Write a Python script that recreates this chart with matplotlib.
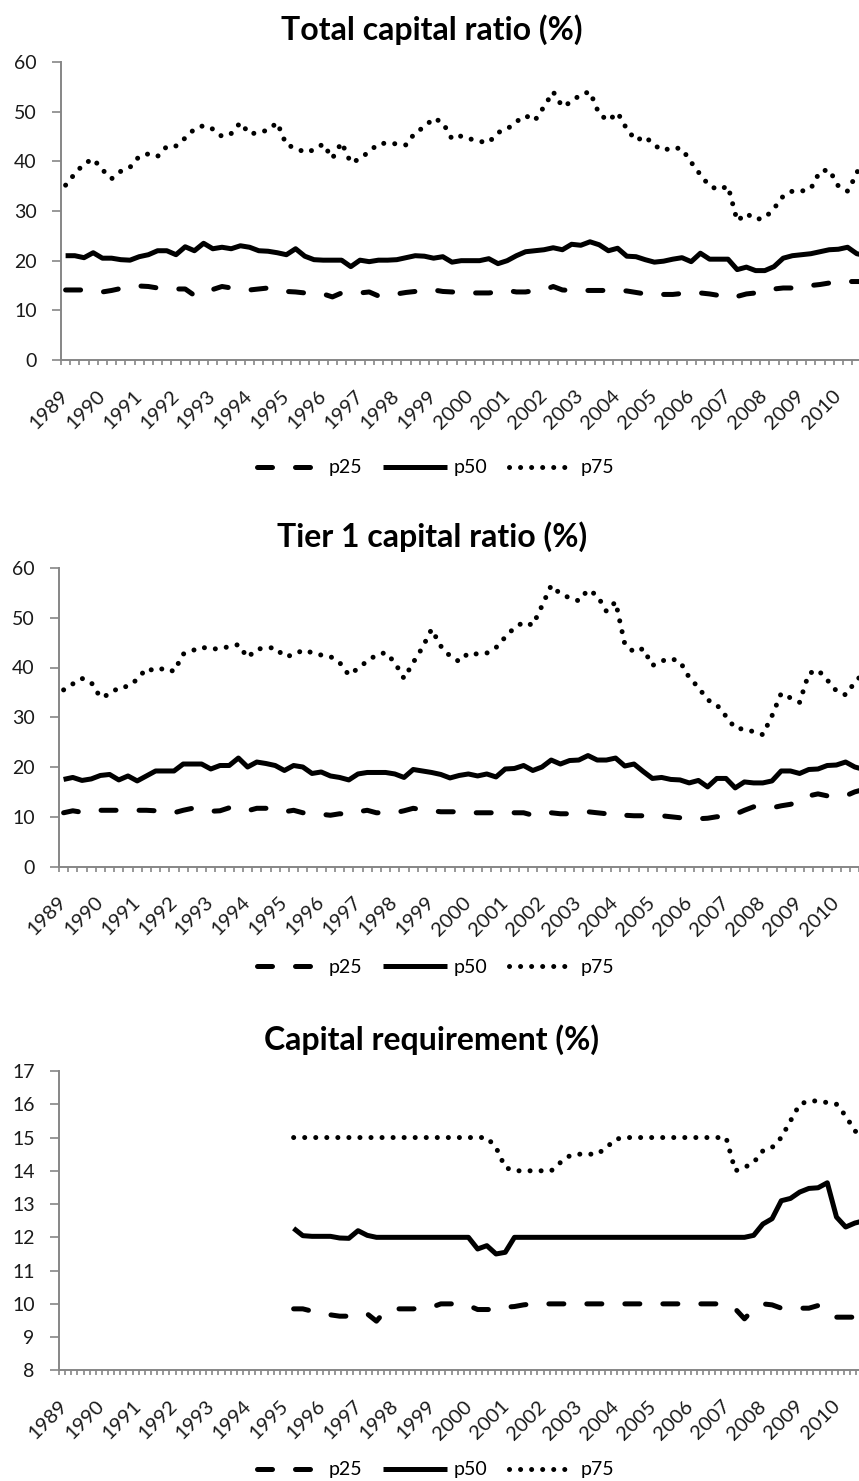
import numpy as np
import matplotlib
matplotlib.use("Agg")
import matplotlib.pyplot as plt
from matplotlib.lines import Line2D
from matplotlib.transforms import ScaledTranslation, blended_transform_factory

plt.rcParams['font.family'] = ['Lato', 'DejaVu Sans']

# ---------------- data ----------------
year_labels = [str(y) for y in range(1989, 2011)]
series_names = ["p25", "p50", "p75"]

# Total capital ratio (%), quarterly from 1989Q1
tcr_p25 = [14.1, 14.1, 14.1, 13.9, 13.7, 14.0, 14.4, 14.7, 14.9, 14.8,
           14.5, 14.3, 14.3, 14.3, 13.0, 13.5, 14.2, 14.8, 14.5, 14.2,
           14.1, 14.3, 14.5, 14.3, 13.8, 13.7, 13.5, 13.3, 13.3, 12.7,
           13.5, 13.4, 13.5, 13.7, 12.9, 13.3, 13.3, 13.6, 13.8, 14.1,
           14.1, 13.8, 13.7, 13.6, 13.5, 13.5, 13.5, 13.7, 14.0, 13.7,
           13.7, 14.0, 14.1, 14.8, 14.1, 14.0, 14.0, 14.0, 14.0, 14.0,
           14.0, 13.9, 13.6, 13.3, 13.2, 13.2, 13.2, 13.4, 13.5, 13.5,
           13.3, 13.0, 13.3, 12.8, 13.3, 13.5, 13.7, 14.3, 14.5, 14.5,
           14.6, 15.0, 15.2, 15.5, 15.6, 15.8, 15.8, 15.8]
tcr_p50 = [21.0, 21.0, 20.6, 21.6, 20.5, 20.5, 20.2, 20.1, 20.8, 21.2,
           22.0, 22.0, 21.2, 22.8, 22.0, 23.5, 22.4, 22.7, 22.4, 23.0,
           22.7, 22.0, 21.9, 21.6, 21.2, 22.4, 20.9, 20.2, 20.1, 20.1,
           20.1, 18.8, 20.1, 19.8, 20.1, 20.1, 20.2, 20.6, 21.0, 20.9,
           20.5, 20.8, 19.7, 20.0, 20.0, 20.0, 20.4, 19.4, 20.0, 21.0,
           21.8, 22.0, 22.2, 22.6, 22.2, 23.3, 23.1, 23.8, 23.2, 22.0,
           22.5, 20.9, 20.8, 20.2, 19.7, 19.9, 20.3, 20.6, 19.8, 21.5,
           20.3, 20.3, 20.3, 18.2, 18.7, 18.0, 18.0, 18.8, 20.5, 21.0,
           21.2, 21.4, 21.8, 22.2, 22.3, 22.7, 21.4, 21.0]
tcr_p75 = [35.2, 37.5, 39.5, 40.5, 38.3, 36.5, 38.0, 38.8, 41.0, 41.5,
           41.0, 43.0, 43.1, 44.7, 46.5, 47.2, 46.5, 45.0, 45.6, 47.8,
           45.5, 45.8, 46.3, 47.8, 43.3, 42.7, 41.8, 42.3, 43.5, 40.6,
           43.8, 39.7, 40.5, 42.0, 43.5, 43.7, 43.5, 43.3, 45.8, 46.9,
           48.7, 47.8, 44.5, 45.1, 44.5, 44.0, 43.8, 45.8, 46.5, 48.0,
           49.2, 48.2, 51.0, 54.0, 51.0, 52.0, 53.5, 54.0, 49.5, 48.2,
           49.8, 46.5, 44.2, 45.0, 43.2, 42.2, 42.8, 42.5, 39.8, 37.3,
           35.0, 34.3, 35.0, 28.0, 29.5, 28.3, 28.6, 30.5, 33.0, 34.0,
           34.0, 34.5, 38.0, 38.3, 35.0, 34.0, 37.5, 44.0]

# Tier 1 capital ratio (%), quarterly from 1989Q1
t1_p25 = [10.8, 11.2, 10.9, 11.3, 11.3, 11.3, 11.3, 11.3, 11.3, 11.3,
          11.2, 11.0, 10.8, 11.3, 11.7, 11.3, 11.1, 11.2, 11.8, 11.3,
          11.2, 11.7, 11.7, 11.5, 11.0, 11.3, 10.8, 10.8, 10.5, 10.3,
          10.6, 10.5, 11.0, 11.3, 10.8, 10.8, 10.8, 11.2, 11.7, 11.4,
          11.2, 11.0, 11.0, 11.0, 10.8, 10.8, 10.8, 10.8, 11.0, 10.8,
          10.8, 10.3, 10.3, 10.8, 10.6, 10.6, 10.8, 11.0, 10.8, 10.6,
          10.8, 10.3, 10.2, 10.2, 10.2, 10.2, 10.0, 9.8, 9.8, 9.6,
          9.7, 10.0, 10.0, 10.5, 11.3, 12.0, 11.8, 11.8, 12.2, 12.5,
          13.0, 14.2, 14.6, 14.2, 14.2, 14.2, 15.0, 15.5]
t1_p50 = [17.5, 17.9, 17.3, 17.6, 18.3, 18.5, 17.4, 18.2, 17.2, 18.2,
          19.2, 19.2, 19.2, 20.6, 20.6, 20.6, 19.6, 20.3, 20.3, 21.8,
          20.0, 21.0, 20.7, 20.3, 19.3, 20.3, 20.0, 18.7, 19.0, 18.2,
          17.9, 17.4, 18.6, 18.9, 18.9, 18.9, 18.6, 17.9, 19.5, 19.2,
          18.9, 18.5, 17.8, 18.3, 18.6, 18.2, 18.6, 18.0, 19.6, 19.7,
          20.3, 19.3, 20.0, 21.4, 20.6, 21.3, 21.4, 22.3, 21.4, 21.4,
          21.8, 20.2, 20.6, 19.1, 17.7, 17.9, 17.5, 17.4, 16.8, 17.3,
          16.0, 17.7, 17.7, 15.8, 17.0, 16.8, 16.8, 17.2, 19.2, 19.2,
          18.7, 19.5, 19.6, 20.3, 20.4, 21.0, 20.0, 19.5]
t1_p75 = [35.5, 36.7, 37.8, 37.0, 34.0, 34.6, 36.0, 36.2, 37.6, 39.8,
          39.3, 39.9, 39.2, 42.7, 43.4, 44.1, 43.7, 43.8, 44.2, 44.6,
          42.0, 43.7, 43.9, 44.0, 42.2, 42.5, 43.5, 43.0, 42.5, 42.2,
          41.0, 38.5, 39.8, 41.3, 42.5, 43.0, 41.0, 37.8, 41.0, 44.0,
          47.7, 44.3, 42.3, 41.2, 42.9, 42.7, 42.9, 44.0, 46.1, 48.0,
          49.1, 48.5, 52.4, 56.5, 54.8, 54.0, 53.4, 55.6, 54.5, 51.3,
          53.2, 44.7, 43.1, 43.8, 40.4, 41.3, 41.8, 41.2, 38.0, 36.0,
          33.5, 32.5, 30.2, 27.8, 27.6, 27.1, 26.5, 30.3, 34.8, 33.9,
          33.0, 38.8, 39.5, 37.5, 35.3, 34.5, 37.0, 39.0]

# Capital requirement (%), quarterly from May 1995 (monthly axis)
cr_first_month = 76          # months after Jan 1989
cr_step_months = 3
cr_p25 = [9.85, 9.85, 9.78, 9.72, 9.67, 9.63, 9.63, 9.63, 9.70, 9.48,
          9.80, 9.85, 9.85, 9.85, 9.88, 9.90, 10.0, 10.0, 10.0, 9.95,
          9.83, 9.83, 9.83, 9.90, 9.92, 9.97, 10.0, 10.0, 10.0, 10.0,
          10.0, 10.0, 10.0, 10.0, 10.0, 10.0, 10.0, 10.0, 10.0, 10.0,
          10.0, 10.0, 10.0, 10.0, 10.0, 10.0, 10.0, 10.0, 9.85, 9.55,
          9.85, 10.0, 9.97, 9.87, 9.87, 9.87, 9.87, 9.95, 9.70, 9.60,
          9.60, 9.60, 9.60]
cr_p50 = [12.27, 12.05, 12.03, 12.03, 12.03, 11.98, 11.97, 12.2, 12.06, 12.0,
          12.0, 12.0, 12.0, 12.0, 12.0, 12.0, 12.0, 12.0, 12.0, 12.0,
          11.65, 11.75, 11.5, 11.55, 12.0, 12.0, 12.0, 12.0, 12.0, 12.0,
          12.0, 12.0, 12.0, 12.0, 12.0, 12.0, 12.0, 12.0, 12.0, 12.0,
          12.0, 12.0, 12.0, 12.0, 12.0, 12.0, 12.0, 12.0, 12.0, 12.0,
          12.06, 12.4, 12.56, 13.1, 13.17, 13.36, 13.47, 13.49, 13.64, 12.61,
          12.31, 12.43, 12.5]
cr_p75 = [15.0, 15.0, 15.0, 15.0, 15.0, 15.0, 15.0, 15.0, 15.0, 15.0,
          15.0, 15.0, 15.0, 15.0, 15.0, 15.0, 15.0, 15.0, 15.0, 15.0,
          15.0, 15.0, 14.7, 14.1, 14.0, 14.0, 14.0, 14.0, 14.0, 14.25,
          14.45, 14.5, 14.5, 14.5, 14.7, 14.95, 15.0, 15.0, 15.0, 15.0,
          15.0, 15.0, 15.0, 15.0, 15.0, 15.0, 15.0, 15.0, 14.0, 14.1,
          14.25, 14.6, 14.7, 15.0, 15.5, 16.0, 16.1, 16.1, 16.05, 16.0,
          15.65, 15.2, 15.0]

titles = ["Total capital ratio (%)", "Tier 1 capital ratio (%)",
          "Capital requirement (%)"]

# ---------------- styling ----------------
W, H = 859, 1481
DPI = 100
fig = plt.figure(figsize=(W / DPI, H / DPI), dpi=DPI)

GRAY = "#868686"
TXT = "#1a1a1a"
LW = 3.6
styles = {
    "p25": dict(linestyle=(0, (3.0, 4.6)), dash_capstyle="round", dash_joinstyle="round"),
    "p50": dict(linestyle="-", solid_capstyle="butt", solid_joinstyle="round"),
    "p75": dict(linestyle=(0, (0.01, 2.2)), dash_capstyle="round", dash_joinstyle="round"),
}
FS_Y = 14
FS_X = 14.5
FS_LEG = 14


def axes_px(left, top, right, bottom):
    return fig.add_axes([left / W, 1 - bottom / H, (right - left) / W, (bottom - top) / H])


def style_axes(ax, ylim, yticks, n_cat, per_year, tick_every, label_dx):
    ax.set_ylim(*ylim)
    ax.set_yticks(yticks)
    ax.set_xlim(-0.5, n_cat - 0.5)
    for s in ("top", "right"):
        ax.spines[s].set_visible(False)
    for s in ("left", "bottom"):
        ax.spines[s].set_color(GRAY)
        ax.spines[s].set_linewidth(1.4)
    ax.tick_params(axis="y", length=6.5, width=1.2, color=GRAY, pad=11,
                   labelsize=FS_Y, labelcolor=TXT)
    major = [per_year * k for k in range(len(year_labels))]
    ax.set_xticks(major)
    ax.set_xticklabels([""] * len(major))
    ax.set_xticks(np.arange(-0.5, n_cat, tick_every), minor=True)
    ax.tick_params(axis="x", which="major", length=0)
    ax.tick_params(axis="x", which="minor", length=3.6, width=1.2, color=GRAY)
    # rotated year labels: upper-right end near the category centre
    trans = blended_transform_factory(ax.transData, ax.transAxes) + \
        ScaledTranslation(label_dx / DPI, -27 / DPI, fig.dpi_scale_trans)
    for xpos, lab in zip(major, year_labels):
        ax.text(xpos, 0, lab, transform=trans, rotation=45, ha="right", va="top",
                fontsize=FS_X, color=TXT, clip_on=False)


def draw(ax, x, series):
    for name, vals in zip(series_names, series):
        ax.plot(x, vals, color="black", lw=LW, clip_on=False, **styles[name])


def legend(y_px):
    handles = [Line2D([0], [0], color="black", lw=LW, **styles[n]) for n in series_names]
    fig.legend(handles, series_names, loc="center", bbox_to_anchor=(435.5 / W, 1 - y_px / H),
               ncol=3, frameon=False, fontsize=FS_LEG, handlelength=3.3,
               handletextpad=0.35, columnspacing=1.1)


def title(text, y_px):
    fig.text(432 / W, 1 - y_px / H, text, ha="center", va="center",
             fontsize=23, fontweight="bold", color="black")


# Chart 1
ax1 = axes_px(61, 62, 61 + 88 * 9.2, 360)
style_axes(ax1, (0, 60), range(0, 61, 10), 88, 4, 1, 6)
draw(ax1, np.arange(len(tcr_p50)), [tcr_p25, tcr_p50, tcr_p75])
title(titles[0], 30)
legend(468)

# Chart 2
ax2 = axes_px(59, 568, 59 + 88 * 9.2, 866.5)
style_axes(ax2, (0, 60), range(0, 61, 10), 88, 4, 1, 6)
draw(ax2, np.arange(len(t1_p50)), [t1_p25, t1_p50, t1_p75])
title(titles[1], 537)
legend(967)

# Chart 3 (monthly category axis)
mx = cr_first_month + cr_step_months * np.arange(len(cr_p50))
ax3 = axes_px(59, 1071, 59 + 264 * 3.067, 1370.4)
style_axes(ax3, (8, 17), range(8, 18), 264, 12, 2, 10)
draw(ax3, mx, [cr_p25, cr_p50, cr_p75])
title(titles[2], 1040)
legend(1470)

fig.savefig("out.png", dpi=DPI)
